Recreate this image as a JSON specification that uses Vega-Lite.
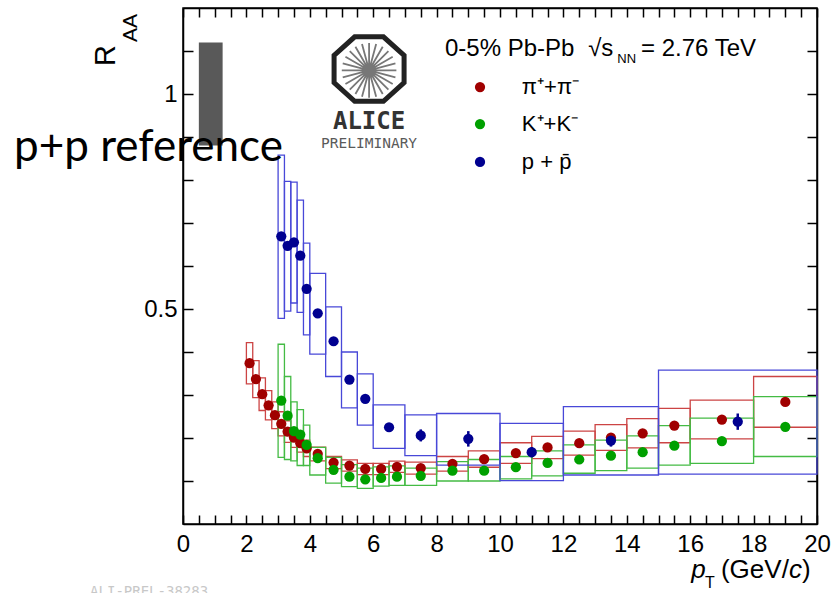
{
  "$schema": "https://vega.github.io/schema/vega-lite/v6.json",
  "width": 634,
  "height": 516,
  "autosize": "none",
  "padding": {"left": 183, "top": 8, "right": 18, "bottom": 69},
  "background": "#ffffff",
  "config": {
    "view": {"stroke": "#000000", "strokeWidth": 1.5},
    "axis": {"domainColor": "#000000", "domainWidth": 1.5, "tickColor": "#000000", "tickWidth": 1.5, "labelFont": "Liberation Sans", "labelFontSize": 24, "labelColor": "#000000", "grid": false, "labelOverlap": false, "labelFlush": false},
    "text": {"font": "Liberation Sans", "color": "#000000"}
  },
  "datasets": {
    "pts": [
      {"s":"pi","x":2.1,"y":0.374,"xlo":2.0,"xhi":2.2,"ylo":0.326,"yhi":0.422},
      {"s":"pi","x":2.3,"y":0.337,"xlo":2.2,"xhi":2.4,"ylo":0.294,"yhi":0.380},
      {"s":"pi","x":2.5,"y":0.302,"xlo":2.4,"xhi":2.6,"ylo":0.264,"yhi":0.340},
      {"s":"pi","x":2.7,"y":0.276,"xlo":2.6,"xhi":2.8,"ylo":0.242,"yhi":0.310},
      {"s":"pi","x":2.9,"y":0.253,"xlo":2.8,"xhi":3.0,"ylo":0.222,"yhi":0.284},
      {"s":"pi","x":3.1,"y":0.233,"xlo":3.0,"xhi":3.2,"ylo":0.205,"yhi":0.261},
      {"s":"pi","x":3.3,"y":0.215,"xlo":3.2,"xhi":3.4,"ylo":0.190,"yhi":0.240},
      {"s":"pi","x":3.5,"y":0.201,"xlo":3.4,"xhi":3.6,"ylo":0.178,"yhi":0.224},
      {"s":"pi","x":3.7,"y":0.188,"xlo":3.6,"xhi":3.8,"ylo":0.167,"yhi":0.209},
      {"s":"pi","x":3.9,"y":0.176,"xlo":3.8,"xhi":4.0,"ylo":0.157,"yhi":0.195},
      {"s":"pi","x":4.25,"y":0.163,"xlo":4.0,"xhi":4.5,"ylo":0.147,"yhi":0.179},
      {"s":"pi","x":4.75,"y":0.143,"xlo":4.5,"xhi":5.0,"ylo":0.129,"yhi":0.157},
      {"s":"pi","x":5.25,"y":0.136,"xlo":5.0,"xhi":5.5,"ylo":0.123,"yhi":0.149},
      {"s":"pi","x":5.75,"y":0.128,"xlo":5.5,"xhi":6.0,"ylo":0.115,"yhi":0.141},
      {"s":"pi","x":6.25,"y":0.128,"xlo":6.0,"xhi":6.5,"ylo":0.115,"yhi":0.141},
      {"s":"pi","x":6.75,"y":0.133,"xlo":6.5,"xhi":7.0,"ylo":0.120,"yhi":0.146},
      {"s":"pi","x":7.5,"y":0.130,"xlo":7.0,"xhi":8.0,"ylo":0.116,"yhi":0.144},
      {"s":"pi","x":8.5,"y":0.140,"xlo":8.0,"xhi":9.0,"ylo":0.123,"yhi":0.157},
      {"s":"pi","x":9.5,"y":0.151,"xlo":9.0,"xhi":10.0,"ylo":0.132,"yhi":0.170},
      {"s":"pi","x":10.5,"y":0.165,"xlo":10.0,"xhi":11.0,"ylo":0.141,"yhi":0.189},
      {"s":"pi","x":11.5,"y":0.178,"xlo":11.0,"xhi":12.0,"ylo":0.152,"yhi":0.204},
      {"s":"pi","x":12.5,"y":0.188,"xlo":12.0,"xhi":13.0,"ylo":0.160,"yhi":0.216},
      {"s":"pi","x":13.5,"y":0.201,"xlo":13.0,"xhi":14.0,"ylo":0.171,"yhi":0.231},
      {"s":"pi","x":14.5,"y":0.211,"xlo":14.0,"xhi":15.0,"ylo":0.177,"yhi":0.245},
      {"s":"pi","x":15.5,"y":0.229,"xlo":15.0,"xhi":16.0,"ylo":0.189,"yhi":0.269},
      {"s":"pi","x":17.0,"y":0.243,"xlo":16.0,"xhi":18.0,"ylo":0.198,"yhi":0.288},
      {"s":"pi","x":19.0,"y":0.284,"xlo":18.0,"xhi":20.0,"ylo":0.225,"yhi":0.343},
      {"s":"K","x":3.1,"y":0.287,"xlo":3.0,"xhi":3.2,"ylo":0.155,"yhi":0.418},
      {"s":"K","x":3.3,"y":0.252,"xlo":3.2,"xhi":3.4,"ylo":0.150,"yhi":0.343},
      {"s":"K","x":3.5,"y":0.216,"xlo":3.4,"xhi":3.6,"ylo":0.147,"yhi":0.284},
      {"s":"K","x":3.7,"y":0.208,"xlo":3.6,"xhi":3.8,"ylo":0.136,"yhi":0.266},
      {"s":"K","x":3.9,"y":0.184,"xlo":3.8,"xhi":4.0,"ylo":0.136,"yhi":0.230},
      {"s":"K","x":4.25,"y":0.153,"xlo":4.0,"xhi":4.5,"ylo":0.114,"yhi":0.178},
      {"s":"K","x":4.75,"y":0.126,"xlo":4.5,"xhi":5.0,"ylo":0.095,"yhi":0.155},
      {"s":"K","x":5.25,"y":0.110,"xlo":5.0,"xhi":5.5,"ylo":0.087,"yhi":0.138},
      {"s":"K","x":5.75,"y":0.104,"xlo":5.5,"xhi":6.0,"ylo":0.083,"yhi":0.130},
      {"s":"K","x":6.25,"y":0.107,"xlo":6.0,"xhi":6.5,"ylo":0.088,"yhi":0.133},
      {"s":"K","x":6.75,"y":0.110,"xlo":6.5,"xhi":7.0,"ylo":0.090,"yhi":0.135},
      {"s":"K","x":7.5,"y":0.112,"xlo":7.0,"xhi":8.0,"ylo":0.090,"yhi":0.130},
      {"s":"K","x":8.5,"y":0.124,"xlo":8.0,"xhi":9.0,"ylo":0.100,"yhi":0.145},
      {"s":"K","x":9.5,"y":0.124,"xlo":9.0,"xhi":10.0,"ylo":0.100,"yhi":0.150},
      {"s":"K","x":10.5,"y":0.132,"xlo":10.0,"xhi":11.0,"ylo":0.105,"yhi":0.157},
      {"s":"K","x":11.5,"y":0.142,"xlo":11.0,"xhi":12.0,"ylo":0.112,"yhi":0.170},
      {"s":"K","x":12.5,"y":0.150,"xlo":12.0,"xhi":13.0,"ylo":0.118,"yhi":0.184},
      {"s":"K","x":13.5,"y":0.159,"xlo":13.0,"xhi":14.0,"ylo":0.124,"yhi":0.195},
      {"s":"K","x":14.5,"y":0.167,"xlo":14.0,"xhi":15.0,"ylo":0.130,"yhi":0.205},
      {"s":"K","x":15.5,"y":0.182,"xlo":15.0,"xhi":16.0,"ylo":0.137,"yhi":0.229},
      {"s":"K","x":17.0,"y":0.193,"xlo":16.0,"xhi":18.0,"ylo":0.141,"yhi":0.246},
      {"s":"K","x":19.0,"y":0.226,"xlo":18.0,"xhi":20.0,"ylo":0.157,"yhi":0.296},
      {"s":"p","x":3.1,"y":0.669,"xlo":3.0,"xhi":3.2,"ylo":0.478,"yhi":0.858},
      {"s":"p","x":3.3,"y":0.647,"xlo":3.2,"xhi":3.4,"ylo":0.495,"yhi":0.797},
      {"s":"p","x":3.5,"y":0.655,"xlo":3.4,"xhi":3.6,"ylo":0.514,"yhi":0.795},
      {"s":"p","x":3.7,"y":0.624,"xlo":3.6,"xhi":3.8,"ylo":0.492,"yhi":0.753},
      {"s":"p","x":3.9,"y":0.547,"xlo":3.8,"xhi":4.0,"ylo":0.440,"yhi":0.653},
      {"s":"p","x":4.25,"y":0.490,"xlo":4.0,"xhi":4.5,"ylo":0.395,"yhi":0.583},
      {"s":"p","x":4.75,"y":0.425,"xlo":4.5,"xhi":5.0,"ylo":0.343,"yhi":0.505},
      {"s":"p","x":5.25,"y":0.336,"xlo":5.0,"xhi":5.5,"ylo":0.270,"yhi":0.400},
      {"s":"p","x":5.75,"y":0.291,"xlo":5.5,"xhi":6.0,"ylo":0.230,"yhi":0.349},
      {"s":"p","x":6.5,"y":0.225,"xlo":6.0,"xhi":7.0,"ylo":0.176,"yhi":0.277,"elo":0.219,"ehi":0.231},
      {"s":"p","x":7.5,"y":0.206,"xlo":7.0,"xhi":8.0,"ylo":0.159,"yhi":0.254,"elo":0.192,"ehi":0.220},
      {"s":"p","x":9.0,"y":0.198,"xlo":8.0,"xhi":10.0,"ylo":0.137,"yhi":0.257,"elo":0.180,"ehi":0.216},
      {"s":"p","x":11.0,"y":0.167,"xlo":10.0,"xhi":12.0,"ylo":0.101,"yhi":0.234,"elo":0.155,"ehi":0.179},
      {"s":"p","x":13.5,"y":0.194,"xlo":12.0,"xhi":15.0,"ylo":0.114,"yhi":0.273,"elo":0.180,"ehi":0.208},
      {"s":"p","x":17.5,"y":0.238,"xlo":15.0,"xhi":20.0,"ylo":0.116,"yhi":0.358,"elo":0.219,"ehi":0.257}
    ],
    "pp": [{"xlo": 0.5, "xhi": 1.25, "ylo": 0.88, "yhi": 1.12}]
  },
  "layer": [
    {
      "data": {"name": "pts"},
      "mark": {"type": "rect", "filled": false, "strokeWidth": 1.3},
      "encoding": {
        "x": {"field": "xlo", "type": "quantitative", "title": null,
          "scale": {"domain": [0, 20], "nice": false, "zero": false},
          "axis": {"orient": "bottom", "values": [0,0.5,1,1.5,2,2.5,3,3.5,4,4.5,5,5.5,6,6.5,7,7.5,8,8.5,9,9.5,10,10.5,11,11.5,12,12.5,13,13.5,14,14.5,15,15.5,16,16.5,17,17.5,18,18.5,19,19.5,20],
            "labelExpr": "datum.value % 2 === 0 ? '' + datum.value : ''",
            "tickSize": -9,
            "labelPadding": 17, "title": null}},
        "x2": {"field": "xhi"},
        "y": {"field": "ylo", "type": "quantitative", "title": null,
          "scale": {"domain": [0, 1.2], "nice": false, "zero": false},
          "axis": {"orient": "left", "values": [0.1,0.2,0.3,0.4,0.5,0.6,0.7,0.8,0.9,1,1.1],
            "labelExpr": "datum.value == 1 ? '1' : (datum.value == 0.5 ? '0.5' : '')",
            "tickSize": -10,
            "labelPadding": 16, "title": null}},
        "y2": {"field": "yhi"},
        "stroke": {"field": "s", "type": "nominal", "legend": null,
          "scale": {"domain": ["pi", "K", "p"], "range": ["#cc4444", "#44bb44", "#4848d8"]}}
      }
    },
    {
      "data": {"name": "pp"},
      "mark": {"type": "rect", "color": "#595959", "opacity": 1},
      "encoding": {
        "x": {"field": "xlo", "type": "quantitative", "title": null,
          "axis": {"orient": "top", "values": [0,0.5,1,1.5,2,2.5,3,3.5,4,4.5,5,5.5,6,6.5,7,7.5,8,8.5,9,9.5,10,10.5,11,11.5,12,12.5,13,13.5,14,14.5,15,15.5,16,16.5,17,17.5,18,18.5,19,19.5,20],
            "labels": false, "title": null, "tickSize": -9}},
        "x2": {"field": "xhi"},
        "y": {"field": "ylo", "type": "quantitative", "title": null,
          "axis": {"orient": "right", "values": [0.1,0.2,0.3,0.4,0.5,0.6,0.7,0.8,0.9,1,1.1],
            "labels": false, "title": null, "tickSize": -10}},
        "y2": {"field": "yhi"}
      }
    },
    {
      "data": {"name": "pts"},
      "transform": [{"filter": "isValid(datum.elo)"}],
      "mark": {"type": "rule", "strokeWidth": 2.5},
      "encoding": {
        "x": {"field": "x", "type": "quantitative", "axis": null},
        "y": {"field": "elo", "type": "quantitative", "axis": null},
        "y2": {"field": "ehi"},
        "color": {"field": "s", "type": "nominal", "legend": null,
          "scale": {"domain": ["pi", "K", "p"], "range": ["#a00000", "#00a000", "#000090"]}}
      }
    },
    {
      "data": {"name": "pts"},
      "mark": {"type": "circle", "size": 105, "opacity": 1},
      "encoding": {
        "x": {"field": "x", "type": "quantitative", "axis": null},
        "y": {"field": "y", "type": "quantitative", "axis": null},
        "fill": {"field": "s", "type": "nominal", "legend": null,
          "scale": {"domain": ["pi", "K", "p"], "range": ["#a00000", "#00a000", "#000090"]}}
      }
    },
    {
      "data": {"values": [{}]},
      "mark": {"type": "point", "shape": "M 1 0.39 L 0.41 0.92 L -0.41 0.92 L -1 0.39 L -1 -0.39 L -0.41 -0.92 L 0.41 -0.92 L 1 -0.39 Z", "size": 4900, "filled": false, "stroke": "#222222", "strokeWidth": 5, "opacity": 1},
      "encoding": {"x": {"datum": 5.87, "axis": null}, "y": {"datum": 1.058, "axis": null}}
    },
    {
      "data": {"values": [{}]},
      "mark": {"type": "point", "shape": "M 0.78 0 L -0.78 0 M 0.753 0.202 L -0.753 -0.202 M 0.675 0.39 L -0.675 -0.39 M 0.552 0.552 L -0.552 -0.552 M 0.39 0.675 L -0.39 -0.675 M 0.202 0.753 L -0.202 -0.753 M 0 0.78 L 0 -0.78 M -0.202 0.753 L 0.202 -0.753 M -0.39 0.675 L 0.39 -0.675 M -0.552 0.552 L 0.552 -0.552 M -0.675 0.39 L 0.675 -0.39 M -0.753 0.202 L 0.753 -0.202", "size": 4900, "filled": false, "stroke": "#777777", "strokeWidth": 1.8, "opacity": 1},
      "encoding": {"x": {"datum": 5.87, "axis": null}, "y": {"datum": 1.055, "axis": null}}
    },
    {
      "data": {"values": [{}]},
      "mark": {"type": "text", "text": "ALICE", "font": "DejaVu Sans Mono", "fontWeight": "bold", "fontSize": 24, "align": "center", "baseline": "alphabetic", "color": "#333333"},
      "encoding": {"x": {"datum": 5.87, "axis": null}, "y": {"datum": 0.918, "axis": null}}
    },
    {
      "data": {"values": [{}]},
      "mark": {"type": "text", "text": "PRELIMINARY", "font": "DejaVu Sans Mono", "fontWeight": "normal", "fontSize": 14.5, "align": "center", "baseline": "alphabetic", "color": "#5a5a5a"},
      "encoding": {"x": {"datum": 5.87, "axis": null}, "y": {"datum": 0.874, "axis": null}}
    },
    {
      "data": {"values": [{}]},
      "mark": {"type": "text", "text": "0-5% Pb-Pb", "fontSize": 24, "align": "left", "baseline": "alphabetic"},
      "encoding": {"x": {"datum": 8.265, "axis": null}, "y": {"datum": 1.088, "axis": null}}
    },
    {
      "data": {"values": [{}]},
      "mark": {"type": "text", "text": "√s", "fontSize": 24, "align": "left", "baseline": "alphabetic"},
      "encoding": {"x": {"datum": 12.78, "axis": null}, "y": {"datum": 1.088, "axis": null}}
    },
    {
      "data": {"values": [{}]},
      "mark": {"type": "text", "text": "NN", "fontSize": 13, "align": "left", "baseline": "alphabetic"},
      "encoding": {"x": {"datum": 13.7, "axis": null}, "y": {"datum": 1.072, "axis": null}}
    },
    {
      "data": {"values": [{}]},
      "mark": {"type": "text", "text": "=  2.76 TeV", "fontSize": 24, "align": "left", "baseline": "alphabetic"},
      "encoding": {"x": {"datum": 14.45, "axis": null}, "y": {"datum": 1.088, "axis": null}}
    },
    {
      "data": {"values": [{}]},
      "mark": {"type": "circle", "size": 105, "opacity": 1},
      "encoding": {"x": {"datum": 9.37, "axis": null}, "y": {"datum": 1.016, "axis": null}, "fill": {"datum": "pi"}}
    },
    {
      "data": {"values": [{}]},
      "mark": {"type": "circle", "size": 105, "opacity": 1},
      "encoding": {"x": {"datum": 9.37, "axis": null}, "y": {"datum": 0.93, "axis": null}, "fill": {"datum": "K"}}
    },
    {
      "data": {"values": [{}]},
      "mark": {"type": "circle", "size": 105, "opacity": 1},
      "encoding": {"x": {"datum": 9.37, "axis": null}, "y": {"datum": 0.842, "axis": null}, "fill": {"datum": "p"}}
    },
    {
      "data": {"values": [{}]},
      "mark": {"type": "text", "text": "π⁺+π⁻", "fontSize": 22, "align": "left", "baseline": "middle"},
      "encoding": {"x": {"datum": 10.69, "axis": null}, "y": {"datum": 1.016, "axis": null}}
    },
    {
      "data": {"values": [{}]},
      "mark": {"type": "text", "text": "K⁺+K⁻", "fontSize": 22, "align": "left", "baseline": "middle"},
      "encoding": {"x": {"datum": 10.69, "axis": null}, "y": {"datum": 0.93, "axis": null}}
    },
    {
      "data": {"values": [{}]},
      "mark": {"type": "text", "text": "p + p̄", "fontSize": 22, "align": "left", "baseline": "middle"},
      "encoding": {"x": {"datum": 10.69, "axis": null}, "y": {"datum": 0.842, "axis": null}}
    },
    {
      "data": {"values": [{}]},
      "mark": {"type": "text", "text": "R", "fontSize": 29, "align": "left", "baseline": "alphabetic", "angle": 270},
      "encoding": {"x": {"datum": -2.145, "axis": null}, "y": {"datum": 1.065, "axis": null}}
    },
    {
      "data": {"values": [{}]},
      "mark": {"type": "text", "text": "AA", "fontSize": 21, "align": "left", "baseline": "alphabetic", "angle": 270},
      "encoding": {"x": {"datum": -1.45, "axis": null}, "y": {"datum": 1.121, "axis": null}}
    },
    {
      "data": {"values": [{}]},
      "mark": {"type": "text", "text": "p", "fontSize": 26, "fontStyle": "italic", "align": "left", "baseline": "alphabetic"},
      "encoding": {"x": {"datum": 16.03, "axis": null}, "y": {"datum": -0.1256, "axis": null}}
    },
    {
      "data": {"values": [{}]},
      "mark": {"type": "text", "text": "T", "fontSize": 16, "align": "left", "baseline": "alphabetic"},
      "encoding": {"x": {"datum": 16.47, "axis": null}, "y": {"datum": -0.149, "axis": null}}
    },
    {
      "data": {"values": [{}]},
      "mark": {"type": "text", "text": "(GeV/", "fontSize": 26, "align": "left", "baseline": "alphabetic"},
      "encoding": {"x": {"datum": 16.97, "axis": null}, "y": {"datum": -0.1256, "axis": null}}
    },
    {
      "data": {"values": [{}]},
      "mark": {"type": "text", "text": "c", "fontSize": 26, "fontStyle": "italic", "align": "left", "baseline": "alphabetic"},
      "encoding": {"x": {"datum": 19.12, "axis": null}, "y": {"datum": -0.1256, "axis": null}}
    },
    {
      "data": {"values": [{}]},
      "mark": {"type": "text", "text": ")", "fontSize": 26, "align": "left", "baseline": "alphabetic"},
      "encoding": {"x": {"datum": 19.53, "axis": null}, "y": {"datum": -0.1256, "axis": null}}
    },
    {
      "data": {"values": [{}]},
      "mark": {"type": "text", "text": "ALI-PREL-38283", "font": "DejaVu Sans Mono", "fontSize": 14, "align": "left", "baseline": "top", "color": "#c8c8c8"},
      "encoding": {"x": {"datum": -2.93, "axis": null}, "y": {"datum": -0.142, "axis": null}}
    },
    {
      "data": {"values": [{}]},
      "mark": {"type": "text", "text": "p+p reference", "font": "Lato", "fontSize": 44, "align": "left", "baseline": "alphabetic"},
      "encoding": {"x": {"datum": -5.33, "axis": null}, "y": {"datum": 0.845, "axis": null}}
    }
  ],
  "resolve": {"axis": {"x": "independent", "y": "independent"}}
}
